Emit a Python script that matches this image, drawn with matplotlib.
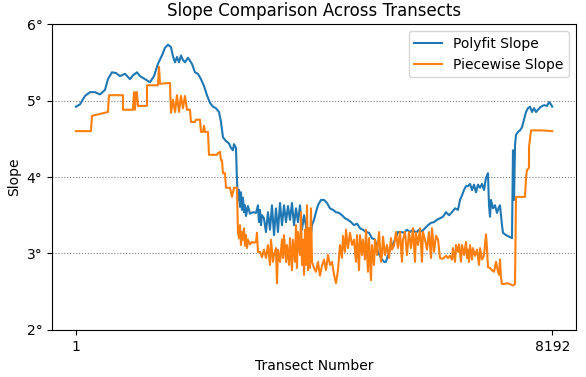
import matplotlib
matplotlib.use("Agg")
import matplotlib.pyplot as plt
from matplotlib.ticker import FuncFormatter

# transect numbers / slope in degrees
poly_x = [1, 70, 156, 242, 328, 414, 500, 551, 620, 689, 758, 844, 930, 981, 1050, 1102,
          1188, 1274, 1343, 1411, 1480, 1532, 1583, 1635, 1669, 1704, 1738, 1773, 1807,
          1841, 1876, 1927, 1996, 2048, 2099, 2151, 2203, 2254, 2306, 2357, 2409, 2461,
          2495, 2529, 2581, 2633, 2667, 2701, 2719, 2753, 2770, 2787, 2805, 2822, 2839,
          2856, 2873, 2891, 2908, 2925, 2959, 2994, 3045, 3097, 3131, 3148, 3166, 3183,
          3200, 3234, 3269, 3303, 3338, 3372, 3407, 3441, 3475, 3510, 3544, 3579, 3613,
          3647, 3682, 3716, 3751, 3785, 3819, 3854, 3888, 3923, 3957, 3991, 4026, 4060,
          4095, 4129, 4163, 4215, 4267, 4318, 4370, 4421, 4473, 4525, 4576, 4628, 4679,
          4731, 4783, 4834, 4886, 4937, 4989, 5041, 5092, 5144, 5195, 5247, 5299, 5333,
          5367, 5402, 5436, 5488, 5539, 5591, 5643, 5694, 5746, 5797, 5849, 5901, 5952,
          6004, 6055, 6107, 6159, 6210, 6262, 6313, 6365, 6417, 6468, 6520, 6571, 6606,
          6640, 6675, 6709, 6743, 6778, 6812, 6847, 6881, 6915, 6950, 6984, 7019, 7053,
          7087, 7105, 7122, 7139, 7173, 7208, 7242, 7277, 7294, 7311, 7328, 7345, 7397,
          7449, 7500, 7517, 7535, 7552, 7569, 7603, 7638, 7672, 7707, 7741, 7775, 7810,
          7844, 7879, 7913, 7947, 7999, 8051, 8102, 8137, 8171, 8192]
poly_slope = [4.92, 4.95, 5.06, 5.11, 5.11, 5.08, 5.14, 5.28, 5.37, 5.36, 5.32, 5.35, 5.28,
              5.33, 5.37, 5.32, 5.28, 5.24, 5.32, 5.48, 5.59, 5.69, 5.73, 5.70, 5.58, 5.50,
              5.57, 5.50, 5.59, 5.53, 5.50, 5.56, 5.48, 5.37, 5.35, 5.28, 5.19, 5.07, 4.97,
              4.92, 4.90, 4.85, 4.72, 4.52, 4.47, 4.44, 4.38, 4.35, 4.43, 4.38, 3.96, 3.70,
              3.83, 3.61, 3.80, 3.57, 3.73, 3.54, 3.63, 3.49, 3.62, 3.52, 3.54, 3.53, 3.63,
              3.41, 3.57, 3.37, 3.50, 3.46, 3.28, 3.54, 3.31, 3.63, 3.24, 3.59, 3.28, 3.66,
              3.37, 3.63, 3.41, 3.62, 3.44, 3.66, 3.37, 3.59, 3.41, 3.63, 3.31, 3.50, 3.36,
              3.18, 3.12, 3.37, 3.44, 3.54, 3.63, 3.70, 3.70, 3.66, 3.59, 3.57, 3.54, 3.53,
              3.50, 3.46, 3.44, 3.41, 3.37, 3.39, 3.33, 3.31, 3.28, 3.27, 3.20, 3.18, 3.02,
              2.94, 2.89, 2.89, 2.98, 3.05, 3.10, 3.18, 3.28, 3.28, 3.27, 3.31, 3.28, 3.31,
              3.27, 3.31, 3.29, 3.33, 3.37, 3.40, 3.41, 3.44, 3.46, 3.48, 3.54, 3.50, 3.54,
              3.59, 3.57, 3.70, 3.76, 3.83, 3.88, 3.88, 3.91, 3.83, 3.90, 3.80, 3.90, 3.86,
              3.91, 3.83, 3.99, 4.05, 3.63, 3.48, 3.70, 3.59, 3.63, 3.53, 3.61, 3.63, 3.50,
              3.37, 3.27, 3.24, 3.22, 3.20, 4.35, 3.70, 4.42, 4.55, 4.59, 4.61, 4.65, 4.75,
              4.85, 4.90, 4.92, 4.85, 4.90, 4.85, 4.88, 4.92, 4.94, 4.93, 4.98, 4.95, 4.92]

piece_x = [1, 259, 276, 551, 569, 809, 810, 981, 999, 1016, 1033, 1050, 1067, 1222, 1223,
           1411, 1429, 1446, 1601, 1618, 1635, 1669, 1704, 1738, 1773, 1807, 1841, 1876,
           1910, 1962, 1979, 2048, 2065, 2134, 2151, 2185, 2203, 2220, 2271, 2289, 2427,
           2443, 2478, 2495, 2512, 2529, 2564, 2581, 2650, 2684, 2719, 2770, 2787, 2805,
           2822, 2839, 2856, 2873, 2891, 2908, 2925, 2942, 2959, 2994, 3028, 3063, 3097,
           3114, 3131, 3166, 3200, 3234, 3269, 3303, 3338, 3355, 3389, 3407, 3441, 3458,
           3475, 3510, 3544, 3561, 3579, 3613, 3630, 3665, 3682, 3716, 3733, 3768, 3785,
           3802, 3819, 3854, 3871, 3888, 3905, 3923, 3940, 3957, 3974, 3991, 4009, 4026,
           4043, 4060, 4095, 4129, 4163, 4198, 4232, 4267, 4301, 4335, 4370, 4404, 4439,
           4473, 4507, 4542, 4576, 4593, 4628, 4645, 4679, 4714, 4748, 4783, 4817, 4834,
           4869, 4886, 4920, 4937, 4972, 4989, 5023, 5041, 5075, 5092, 5127, 5144, 5178,
           5213, 5247, 5264, 5281, 5316, 5350, 5385, 5419, 5436, 5471, 5505, 5539, 5574,
           5608, 5625, 5660, 5694, 5729, 5763, 5797, 5832, 5849, 5883, 5918, 5952, 5969,
           6004, 6038, 6073, 6107, 6124, 6159, 6193, 6228, 6262, 6296, 6331, 6365, 6399,
           6434, 6468, 6485, 6520, 6537, 6571, 6589, 6623, 6640, 6675, 6709, 6726, 6743,
           6761, 6778, 6812, 6829, 6864, 6898, 6933, 6950, 6984, 7019, 7053, 7070, 7087,
           7122, 7156, 7191, 7225, 7259, 7277, 7294, 7311, 7328, 7363, 7414, 7466, 7517,
           7552, 7569, 7724, 7741, 7758, 7792, 7793, 7827, 7999, 8192]
piece_slope = [4.60, 4.60, 4.80, 4.85, 5.07, 5.07, 4.88, 4.88, 5.11, 4.88, 5.11, 5.11, 4.93,
               4.93, 5.20, 5.20, 5.44, 5.22, 5.23, 5.23, 4.84, 5.01, 4.85, 5.07, 4.85, 5.06,
               4.90, 5.06, 4.88, 4.88, 4.72, 4.72, 4.75, 4.75, 4.59, 4.59, 4.67, 4.59, 4.59,
               4.29, 4.29, 4.31, 4.33, 4.22, 4.22, 4.05, 4.05, 3.86, 3.86, 3.74, 3.86, 3.86,
               3.28, 3.20, 3.37, 3.11, 3.28, 3.18, 3.33, 3.10, 3.24, 3.07, 3.18, 3.12, 3.15,
               3.14, 3.15, 3.27, 3.02, 3.02, 2.95, 3.05, 2.94, 3.11, 2.85, 3.18, 2.89, 2.98,
               3.07, 2.61, 3.05, 2.89, 3.18, 2.94, 3.24, 2.89, 3.11, 2.85, 3.20, 2.78, 3.18,
               2.89, 3.37, 2.81, 3.28, 2.98, 3.54, 2.85, 3.18, 2.72, 3.31, 2.85, 3.63, 2.78,
               3.33, 2.81, 3.59, 2.89, 2.81, 2.76, 2.89, 2.71, 2.84, 2.92, 2.78, 2.98, 2.85,
               2.89, 2.72, 2.61, 2.78, 3.11, 2.94, 3.23, 3.02, 3.31, 3.07, 3.27, 3.11, 3.18,
               2.89, 3.24, 2.78, 3.24, 2.98, 3.18, 2.92, 3.31, 2.76, 3.20, 2.65, 3.11, 2.85,
               3.18, 2.98, 3.28, 2.89, 2.98, 3.22, 2.98, 3.11, 2.94, 3.20, 3.05, 3.10, 3.28,
               3.07, 3.28, 2.89, 3.18, 3.28, 2.98, 3.28, 3.07, 3.33, 2.89, 3.27, 3.11, 3.33,
               2.89, 3.28, 3.18, 3.05, 3.28, 2.94, 3.33, 3.02, 3.23, 3.18, 2.94, 2.93, 2.94,
               2.97, 2.94, 2.97, 2.92, 3.07, 2.89, 3.11, 3.02, 3.12, 2.89, 3.11, 2.98, 3.15,
               2.94, 3.05, 2.89, 3.11, 2.92, 3.07, 2.97, 3.05, 2.85, 3.07, 2.92, 2.98, 3.25,
               3.07, 2.82, 2.81, 2.78, 2.76, 2.89, 2.76, 2.72, 2.92, 2.68, 2.60, 2.60, 2.61,
               2.60, 2.58, 2.60, 3.74, 3.74, 3.99, 4.09, 4.12, 4.39, 4.61, 4.61, 4.60]

fig = plt.figure(figsize=(5.86, 3.77), dpi=100)
ax = fig.add_axes([0.089, 0.125, 0.894, 0.811])

ax.plot(poly_x, poly_slope, color='tab:blue', lw=1.5, label='Polyfit Slope')
ax.plot(piece_x, piece_slope, color='tab:orange', lw=1.5, label='Piecewise Slope')

ax.set_title('Slope Comparison Across Transects')
ax.set_xlabel('Transect Number')
ax.set_ylabel('Slope')
ax.set_ylim(2, 6)
ax.set_yticks([2, 3, 4, 5, 6])
ax.yaxis.set_major_formatter(FuncFormatter(lambda v, p: f'{v:.0f}\u00b0'))
ax.set_xticks([1, 8192])
ax.yaxis.grid(True, linestyle=':', color='gray')
ax.legend(loc='upper right')

fig.savefig('out.png', dpi=100)
